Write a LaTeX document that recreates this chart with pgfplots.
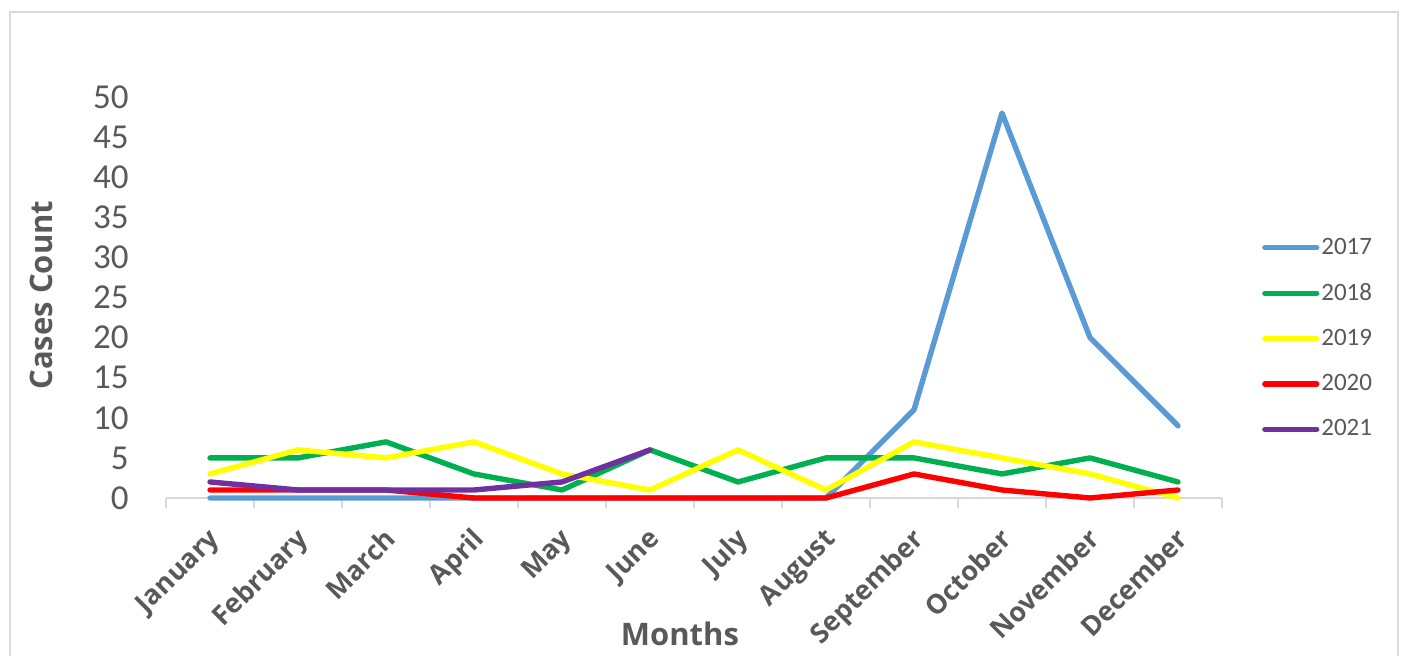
\documentclass[border=0pt]{standalone}
\usepackage{fontspec}
\setmainfont{Carlito}
\newfontfamily\osans{Open Sans}
\usepackage{pgfplots}
\usepackage{pgfplotstable}
\pgfplotsset{compat=1.18}

\definecolor{c17}{HTML}{5B9BD5}
\definecolor{c18}{HTML}{00B050}
\definecolor{c19}{HTML}{FFFF00}
\definecolor{c20}{HTML}{FF0000}
\definecolor{c21}{HTML}{7030A0}
\definecolor{txt}{HTML}{595959}
\definecolor{frame}{HTML}{D9D9D9}

% cases per month, one column per year
\pgfplotstableread{
m  y2017 y2018 y2019 y2020 y2021
0  0     5     3     1     2
1  0     5     6     1     1
2  0     7     5     1     1
3  0     3     7     0     1
4  0     1     3     0     2
5  0     6     1     0     6
6  0     2     6     0     nan
7  0     5     1     0     nan
8  11    5     7     3     nan
9  48    3     5     1     nan
10 20    5     3     0     nan
11 9     2     0     1     nan
}\casedata

\begin{document}
\begin{tikzpicture}
\useasboundingbox (0,0) rectangle (702pt,327.5pt);
\draw[frame, line width=0.75pt] (5pt,-10pt) -- (5pt,321.5pt) -- (699pt,321.5pt) -- (699pt,-10pt);
\begin{axis}[
    at={(83pt,78.5pt)}, anchor=south west,
    scale only axis, width=528pt, height=200.5pt,
    xmin=-0.5, xmax=11.5, ymin=0, ymax=50,
    clip=false,
    axis x line*=bottom, axis y line*=left,
    x axis line style={frame, line width=0.75pt, -},
    y axis line style={draw=none},
    tick align=outside,
    major tick length=0pt,
    minor tick length=5pt,
    ytick={0,5,...,50},
    ytick style={draw=none},
    /pgf/number format/assume math mode=true,
    yticklabel style={font=\fontsize{17.5}{20}\selectfont, text=txt, inner sep=0pt, anchor=east, xshift=-18.5pt},
    xtick={0,...,11},
    xticklabels={January,February,March,April,May,June,July,August,September,October,November,December},
    major x tick style={draw=none},
    minor xtick={-0.5,0.5,...,11.5},
    minor x tick style={frame, line width=0.75pt},
    xticklabel style={font=\osans\bfseries\fontsize{13.5}{16}\selectfont, text=txt, inner sep=0pt,
        anchor=north east, xshift=-1.5pt, yshift=-14pt, rotate=45},
    xlabel={Months},
    xlabel style={at={(axis description cs:0.4867,-0.369)}, anchor=base,
        font=\osans\bfseries\fontsize{15.5}{18}\selectfont, text=txt},
    ylabel={Cases Count},
    ylabel style={at={(axis description cs:-0.1184,0.506)}, anchor=center,
        font=\osans\bfseries\fontsize{15.5}{18}\selectfont, text=txt},
    legend style={at={(axis description cs:1.032,0.398)}, anchor=west, draw=none, fill=none,
        font=\fontsize{12.5}{14}\selectfont, text=txt, row sep=11pt, nodes={inner sep=1pt}},
    legend cell align=left,
    legend image code/.code={\draw[#1, line width=2.6pt, line cap=round] (0pt,0pt) -- (26pt,0pt);},
    every axis plot/.append style={line width=2.7pt, line join=round, line cap=round},
]
\addplot[c17] table[x=m, y=y2017] {\casedata};
\addplot[c18] table[x=m, y=y2018] {\casedata};
\addplot[c19] table[x=m, y=y2019] {\casedata};
\addplot[c20] table[x=m, y=y2020] {\casedata};
\addplot[c21] table[x=m, y=y2021] {\casedata};
\legend{2017,2018,2019,2020,2021}
\end{axis}
\end{tikzpicture}
\end{document}
